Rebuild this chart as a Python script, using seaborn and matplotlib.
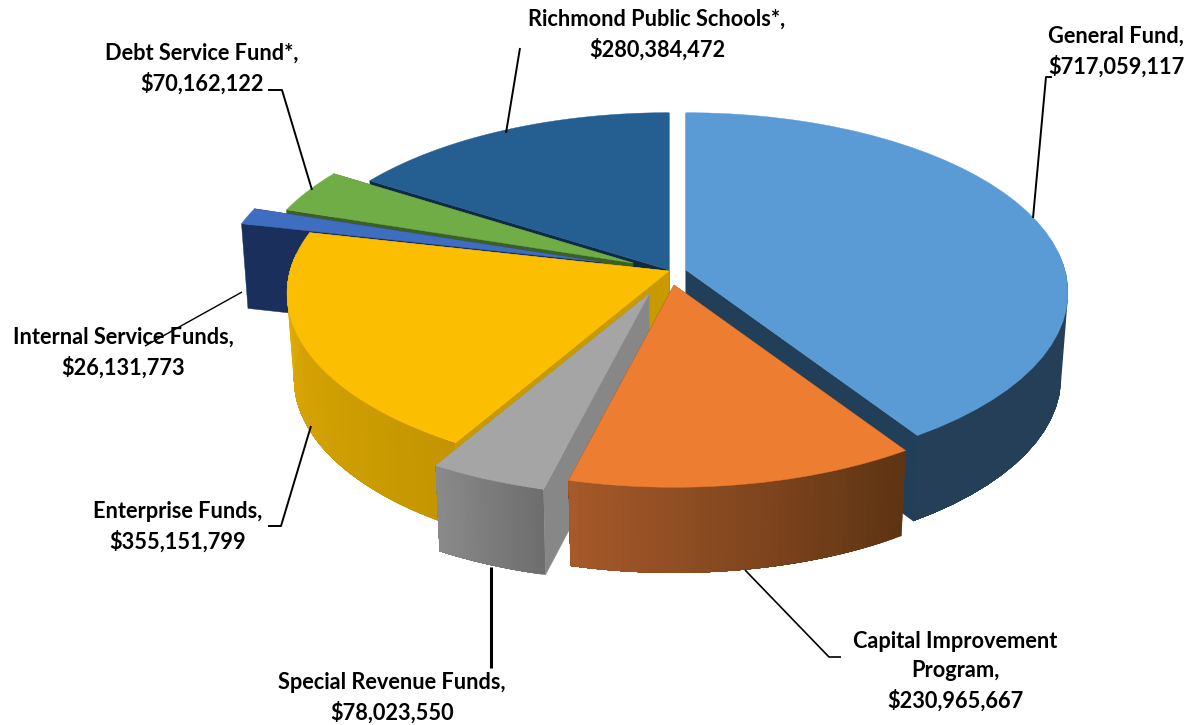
import numpy as np
import matplotlib
matplotlib.use('Agg')
import matplotlib.pyplot as plt
import seaborn as sns

# fondos, en el orden de la torta (sentido horario desde arriba)
fund_names = ['General Fund,', 'Capital Improvement\nProgram,', 'Special Revenue Funds,', 'Enterprise Funds,',
              'Internal Service Funds,', 'Debt Service Fund*,', 'Richmond Public Schools*,']
fund_values = [717059117, 230965667, 78023550, 355151799, 26131773, 70162122, 280384472]
top_colors = ['#5B9BD5', '#ED7D31', '#A5A5A5', '#FBBE00', '#3F6DC0', '#70AD47', '#255E91']
wall_left = ['#253F58', '#A6592A', '#8A8A8A', '#E0AC05', '#1B2F5C', '#3C5F26', '#0F2A45']
wall_right = ['#253F58', '#5E3413', '#6E6E6E', '#C49500', '#1B2F5C', '#3C5F26', '#0F2A45']
face_colors = ['#223F5A', '#6A3A14', '#878787', '#C79A00', '#1B2F5C', '#3C5F26', '#0F2A45']

# geometria de la torta en pixeles
cx, cy = 669, 270
R, Ry = 379, 177
k = 0.125
depth = 85
explode = [(17, 0), (5, 15), (-20, 24), (0, 1), (-68, -8), (-36, -7), (0, 0)]
draw_order = [6, 0, 5, 4, 3, 2, 1]


def project(theta, r, off, z):
    u, v = np.sin(theta), np.cos(theta)
    d = 1 + k * r * v
    s = 1 - 0.018 * z
    x = cx + off[0] + R * s * r * u / d
    y = cy + off[1] - Ry * s * r * v / d + z * depth * (1 - 0.05 * r * v)
    return x, y


sns.set_theme(style='white')
plt.rcParams['font.family'] = ['Lato', 'DejaVu Sans']

fig, ax = plt.subplots(figsize=(11.9, 7.25), dpi=100)
ax.set_position([0, 0, 1, 1])
ax.set_xlim(0, 1190)
ax.set_ylim(725, 0)
ax.axis('off')

edges = np.deg2rad(np.concatenate([[0], np.cumsum(fund_values) / np.sum(fund_values) * 360]))

zorder = 1
for i in draw_order:
    t0, t1 = edges[i], edges[i + 1]
    off = explode[i]
    thetas = np.linspace(t0, t1, 41)

    # caras de corte
    for t in (t0, t1):
        a = project(t, 0, off, 0)
        b = project(t, 1, off, 0)
        c = project(t, 1, off, 1)
        d = project(t, 0, off, 1)
        ax.fill([a[0], b[0], c[0], d[0]], [a[1], b[1], c[1], d[1]], color=face_colors[i], lw=0.3, zorder=zorder)

    # pared exterior con degradado, solo la parte que da al frente
    front = thetas[np.cos(thetas) < 0.1]
    if len(front) > 1:
        xb, yb = project(front, 1, off, 0)
        xc, yc = project(front, 1, off, 1)
        shades = sns.blend_palette([wall_left[i], wall_right[i]], len(front) - 1)
        # de derecha a izquierda y hasta el final, cada tira tapa la costura de la anterior
        if xb[0] > xb[-1]:
            seq = range(len(front) - 1)
        else:
            seq = range(len(front) - 2, -1, -1)
        for j in seq:
            if xb[0] > xb[-1]:
                keep = np.arange(j, len(front))
            else:
                keep = np.arange(0, j + 2)
            shade = shades[int(np.argsort(np.argsort(xb[:-1]))[j])]
            ax.fill(np.r_[xb[keep], xc[keep][::-1]], np.r_[yb[keep], yc[keep][::-1]], color=shade, lw=0, zorder=zorder)

    # cara superior
    xt, yt = project(thetas, 1, off, 0)
    tip = project(t0, 0, off, 0)
    ax.fill(np.r_[tip[0], xt], np.r_[tip[1], yt], color=top_colors[i], lw=0.3, zorder=zorder + 0.5)
    zorder += 1

# lineas guia
leaders = [([1033, 1046, 1052], [218, 77, 77], 1.4), ([745, 829, 841], [570, 657, 657], 1.2),
           ([491, 491], [567, 668], 2.2), ([311, 281, 268], [426, 526, 526], 1.4),
           ([242, 145], [292, 346], 1.0), ([312, 282, 268], [190, 90, 90], 1.4),
           ([506, 520], [133, 48], 1.4)]
for lx, ly, lw in leaders:
    ax.plot(lx, ly, color='black', lw=lw, zorder=20, solid_capstyle='butt')

# etiquetas
label_pos = [(1116, 52), (955, 671), (392, 698), (178, 527), (123, 353), (202, 69), (657, 35)]
for name, val, pos in zip(fund_names, fund_values, label_pos):
    ax.text(pos[0], pos[1], f'{name}\n${val:,}', ha='center', va='center', fontsize=15.7, fontweight='bold',
            color='black', linespacing=1.47, zorder=21)

plt.savefig('out.png', dpi=100)
